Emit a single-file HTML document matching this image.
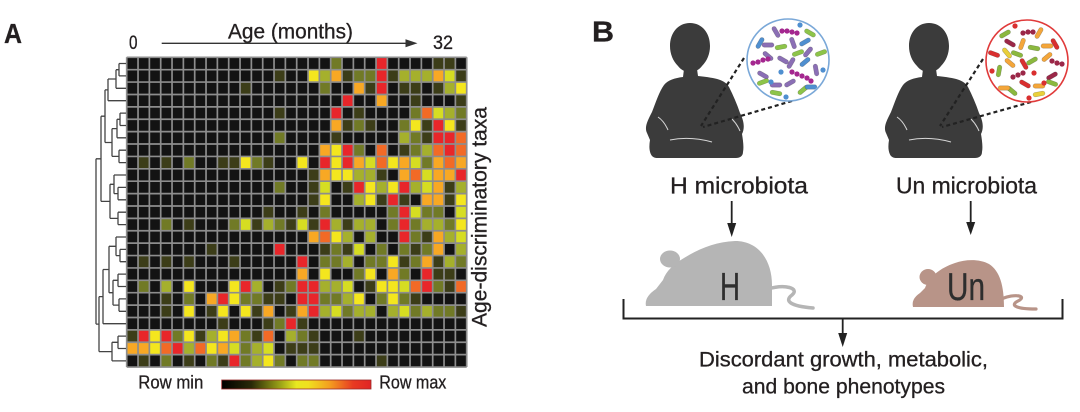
<!DOCTYPE html>
<html><head><meta charset="utf-8">
<style>
html,body{margin:0;padding:0;background:#fff;}
svg{display:block;}
text{font-family:"Liberation Sans Narrow","Liberation Sans",sans-serif;fill:#231f20;stroke:#231f20;stroke-width:0.3;}
.d{fill:#3c3d18}.o{fill:#717a26}.g{fill:#a5b02c}.Y{fill:#d6dd22}.y{fill:#f4e61e}.a{fill:#f8a824}.O{fill:#f26a26}.r{fill:#e8262a}
</style></head><body>
<svg width="1080" height="412" viewBox="0 0 1080 412" xmlns="http://www.w3.org/2000/svg">
<defs>
<rect id="u" width="1" height="1"/>
<rect id="rod" x="-6" y="-2.2" width="12" height="4.4" rx="2.2" stroke="rgba(0,0,0,0.25)" stroke-width="0.6"/>
<circle id="dot" r="2.6"/>
<linearGradient id="cb" x1="0" x2="1" y1="0" y2="0">
<stop offset="0" stop-color="#000"/><stop offset="0.2" stop-color="#2a2a08"/><stop offset="0.4" stop-color="#a0a818"/><stop offset="0.5" stop-color="#e8e820"/><stop offset="0.58" stop-color="#f0e020"/><stop offset="0.72" stop-color="#f4a020"/><stop offset="0.88" stop-color="#e83a22"/><stop offset="1" stop-color="#e02424"/>
</linearGradient>
<clipPath id="c1"><circle cx="788" cy="60" r="40"/></clipPath>
<clipPath id="c2"><circle cx="1027" cy="61" r="40"/></clipPath>
<g id="babyshape">
<path d="M690 23C702 23 710 33 710 46C710 54 707 61 702 66C699 70 695 72 690 72C685 72 681 70 678 66C673 61 670 54 670 46C670 33 678 23 690 23Z"/>
<path d="M684 69L683 77C675 78 668 80 664 85C659 92 656 102 652 112C648 120 644 127 647 133L650 140C649 146 649 152 652 156C654 158 656 158 658 158L736 158C740 158 743 156 743 152C744 147 743 140 742 134C745 128 744 121 740 113C737 104 733 95 729 87C725 80 717 78 698 76L697 69Z"/>
</g>
</defs>

<!-- Panel A -->
<text x="4" y="43" font-size="28" font-weight="bold" textLength="18" lengthAdjust="spacingAndGlyphs">A</text>
<text x="228" y="38.3" font-size="21" textLength="125" lengthAdjust="spacingAndGlyphs">Age (months)</text>
<text x="129" y="49" font-size="19" textLength="8.5" lengthAdjust="spacingAndGlyphs">0</text>
<text x="433" y="49" font-size="19" textLength="20" lengthAdjust="spacingAndGlyphs">32</text>
<path d="M161.7 43.3H410" stroke="#333" stroke-width="1.4"/>
<polygon points="405.5,39.3 417.5,43.3 405.5,47.3" fill="#333"/>

<rect x="126.7" y="57.3" width="340" height="309.75" fill="#131313"/>
<g transform="translate(126.7 57.3) scale(11.3333 12.39)">
<use href="#u" x="18" y="0" class="o"/><use href="#u" x="22" y="0" class="r"/><use href="#u" x="27" y="0" class="d"/><use href="#u" x="28" y="0" class="d"/>
<use href="#u" x="13" y="1" class="d"/><use href="#u" x="16" y="1" class="y"/><use href="#u" x="17" y="1" class="g"/><use href="#u" x="18" y="1" class="a"/><use href="#u" x="19" y="1" class="d"/><use href="#u" x="20" y="1" class="o"/><use href="#u" x="21" y="1" class="o"/><use href="#u" x="22" y="1" class="r"/><use href="#u" x="23" y="1" class="d"/><use href="#u" x="24" y="1" class="g"/><use href="#u" x="25" y="1" class="g"/><use href="#u" x="26" y="1" class="g"/><use href="#u" x="27" y="1" class="a"/><use href="#u" x="28" y="1" class="Y"/><use href="#u" x="29" y="1" class="d"/>
<use href="#u" x="10" y="2" class="d"/><use href="#u" x="17" y="2" class="o"/><use href="#u" x="20" y="2" class="a"/><use href="#u" x="21" y="2" class="d"/><use href="#u" x="22" y="2" class="r"/><use href="#u" x="24" y="2" class="d"/><use href="#u" x="25" y="2" class="d"/><use href="#u" x="27" y="2" class="d"/><use href="#u" x="28" y="2" class="g"/><use href="#u" x="29" y="2" class="y"/>
<use href="#u" x="19" y="3" class="r"/><use href="#u" x="22" y="3" class="a"/><use href="#u" x="25" y="3" class="d"/><use href="#u" x="29" y="3" class="d"/>
<use href="#u" x="13" y="4" class="d"/><use href="#u" x="18" y="4" class="r"/><use href="#u" x="20" y="4" class="d"/><use href="#u" x="25" y="4" class="o"/><use href="#u" x="26" y="4" class="O"/><use href="#u" x="27" y="4" class="Y"/><use href="#u" x="28" y="4" class="g"/><use href="#u" x="29" y="4" class="o"/>
<use href="#u" x="18" y="5" class="a"/><use href="#u" x="19" y="5" class="d"/><use href="#u" x="20" y="5" class="o"/><use href="#u" x="21" y="5" class="d"/><use href="#u" x="24" y="5" class="o"/><use href="#u" x="25" y="5" class="y"/><use href="#u" x="26" y="5" class="d"/><use href="#u" x="27" y="5" class="r"/><use href="#u" x="28" y="5" class="y"/><use href="#u" x="29" y="5" class="d"/>
<use href="#u" x="13" y="6" class="o"/><use href="#u" x="18" y="6" class="d"/><use href="#u" x="24" y="6" class="g"/><use href="#u" x="25" y="6" class="o"/><use href="#u" x="26" y="6" class="d"/><use href="#u" x="27" y="6" class="r"/><use href="#u" x="28" y="6" class="r"/><use href="#u" x="29" y="6" class="O"/>
<use href="#u" x="17" y="7" class="a"/><use href="#u" x="18" y="7" class="y"/><use href="#u" x="19" y="7" class="r"/><use href="#u" x="20" y="7" class="o"/><use href="#u" x="22" y="7" class="O"/><use href="#u" x="24" y="7" class="d"/><use href="#u" x="25" y="7" class="o"/><use href="#u" x="26" y="7" class="g"/><use href="#u" x="27" y="7" class="O"/><use href="#u" x="28" y="7" class="r"/><use href="#u" x="29" y="7" class="O"/>
<use href="#u" x="1" y="8" class="d"/><use href="#u" x="3" y="8" class="d"/><use href="#u" x="5" y="8" class="o"/><use href="#u" x="8" y="8" class="d"/><use href="#u" x="9" y="8" class="d"/><use href="#u" x="10" y="8" class="y"/><use href="#u" x="11" y="8" class="o"/><use href="#u" x="12" y="8" class="d"/><use href="#u" x="15" y="8" class="y"/><use href="#u" x="17" y="8" class="r"/><use href="#u" x="18" y="8" class="y"/><use href="#u" x="19" y="8" class="r"/><use href="#u" x="20" y="8" class="a"/><use href="#u" x="21" y="8" class="Y"/><use href="#u" x="22" y="8" class="O"/><use href="#u" x="23" y="8" class="y"/><use href="#u" x="24" y="8" class="a"/><use href="#u" x="25" y="8" class="Y"/><use href="#u" x="26" y="8" class="o"/><use href="#u" x="27" y="8" class="a"/><use href="#u" x="28" y="8" class="O"/><use href="#u" x="29" y="8" class="a"/>
<use href="#u" x="16" y="9" class="d"/><use href="#u" x="17" y="9" class="a"/><use href="#u" x="18" y="9" class="y"/><use href="#u" x="19" y="9" class="y"/><use href="#u" x="20" y="9" class="g"/><use href="#u" x="21" y="9" class="g"/><use href="#u" x="22" y="9" class="d"/><use href="#u" x="24" y="9" class="a"/><use href="#u" x="25" y="9" class="O"/><use href="#u" x="26" y="9" class="Y"/><use href="#u" x="27" y="9" class="a"/><use href="#u" x="28" y="9" class="a"/><use href="#u" x="29" y="9" class="r"/>
<use href="#u" x="13" y="10" class="o"/><use href="#u" x="16" y="10" class="d"/><use href="#u" x="17" y="10" class="Y"/><use href="#u" x="19" y="10" class="d"/><use href="#u" x="20" y="10" class="r"/><use href="#u" x="21" y="10" class="y"/><use href="#u" x="22" y="10" class="g"/><use href="#u" x="23" y="10" class="y"/><use href="#u" x="24" y="10" class="r"/><use href="#u" x="25" y="10" class="g"/><use href="#u" x="26" y="10" class="Y"/><use href="#u" x="27" y="10" class="a"/><use href="#u" x="28" y="10" class="d"/><use href="#u" x="29" y="10" class="g"/>
<use href="#u" x="16" y="11" class="d"/><use href="#u" x="17" y="11" class="y"/><use href="#u" x="20" y="11" class="g"/><use href="#u" x="21" y="11" class="y"/><use href="#u" x="22" y="11" class="d"/><use href="#u" x="23" y="11" class="r"/><use href="#u" x="24" y="11" class="d"/><use href="#u" x="26" y="11" class="a"/><use href="#u" x="27" y="11" class="a"/><use href="#u" x="28" y="11" class="d"/><use href="#u" x="29" y="11" class="y"/>
<use href="#u" x="12" y="12" class="d"/><use href="#u" x="15" y="12" class="d"/><use href="#u" x="17" y="12" class="o"/><use href="#u" x="23" y="12" class="o"/><use href="#u" x="24" y="12" class="r"/><use href="#u" x="25" y="12" class="Y"/><use href="#u" x="26" y="12" class="o"/><use href="#u" x="27" y="12" class="o"/><use href="#u" x="29" y="12" class="Y"/>
<use href="#u" x="3" y="13" class="o"/><use href="#u" x="5" y="13" class="d"/><use href="#u" x="9" y="13" class="o"/><use href="#u" x="10" y="13" class="Y"/><use href="#u" x="11" y="13" class="d"/><use href="#u" x="12" y="13" class="g"/><use href="#u" x="13" y="13" class="o"/><use href="#u" x="14" y="13" class="d"/><use href="#u" x="15" y="13" class="Y"/><use href="#u" x="16" y="13" class="d"/><use href="#u" x="17" y="13" class="r"/><use href="#u" x="18" y="13" class="g"/><use href="#u" x="19" y="13" class="d"/><use href="#u" x="20" y="13" class="g"/><use href="#u" x="21" y="13" class="g"/><use href="#u" x="23" y="13" class="o"/><use href="#u" x="24" y="13" class="r"/><use href="#u" x="25" y="13" class="o"/><use href="#u" x="26" y="13" class="g"/><use href="#u" x="27" y="13" class="g"/><use href="#u" x="28" y="13" class="o"/><use href="#u" x="29" y="13" class="y"/>
<use href="#u" x="16" y="14" class="a"/><use href="#u" x="17" y="14" class="O"/><use href="#u" x="18" y="14" class="y"/><use href="#u" x="19" y="14" class="g"/><use href="#u" x="21" y="14" class="g"/><use href="#u" x="24" y="14" class="r"/><use href="#u" x="25" y="14" class="o"/><use href="#u" x="26" y="14" class="d"/><use href="#u" x="27" y="14" class="a"/><use href="#u" x="28" y="14" class="g"/><use href="#u" x="29" y="14" class="Y"/>
<use href="#u" x="7" y="15" class="d"/><use href="#u" x="13" y="15" class="r"/><use href="#u" x="17" y="15" class="d"/><use href="#u" x="18" y="15" class="o"/><use href="#u" x="19" y="15" class="d"/><use href="#u" x="20" y="15" class="Y"/><use href="#u" x="22" y="15" class="o"/><use href="#u" x="24" y="15" class="o"/><use href="#u" x="25" y="15" class="d"/><use href="#u" x="26" y="15" class="o"/><use href="#u" x="27" y="15" class="a"/><use href="#u" x="29" y="15" class="g"/>
<use href="#u" x="1" y="16" class="d"/><use href="#u" x="3" y="16" class="d"/><use href="#u" x="5" y="16" class="d"/><use href="#u" x="9" y="16" class="d"/><use href="#u" x="15" y="16" class="r"/><use href="#u" x="17" y="16" class="o"/><use href="#u" x="18" y="16" class="o"/><use href="#u" x="19" y="16" class="g"/><use href="#u" x="21" y="16" class="o"/><use href="#u" x="22" y="16" class="o"/><use href="#u" x="23" y="16" class="y"/><use href="#u" x="24" y="16" class="d"/><use href="#u" x="25" y="16" class="o"/><use href="#u" x="26" y="16" class="a"/><use href="#u" x="27" y="16" class="d"/><use href="#u" x="28" y="16" class="g"/><use href="#u" x="29" y="16" class="o"/>
<use href="#u" x="15" y="17" class="a"/><use href="#u" x="17" y="17" class="y"/><use href="#u" x="20" y="17" class="o"/><use href="#u" x="21" y="17" class="y"/><use href="#u" x="23" y="17" class="a"/><use href="#u" x="24" y="17" class="o"/><use href="#u" x="26" y="17" class="r"/><use href="#u" x="27" y="17" class="d"/><use href="#u" x="28" y="17" class="d"/>
<use href="#u" x="1" y="18" class="o"/><use href="#u" x="3" y="18" class="g"/><use href="#u" x="5" y="18" class="y"/><use href="#u" x="9" y="18" class="y"/><use href="#u" x="10" y="18" class="r"/><use href="#u" x="11" y="18" class="g"/><use href="#u" x="13" y="18" class="d"/><use href="#u" x="14" y="18" class="o"/><use href="#u" x="15" y="18" class="r"/><use href="#u" x="16" y="18" class="r"/><use href="#u" x="17" y="18" class="g"/><use href="#u" x="18" y="18" class="g"/><use href="#u" x="19" y="18" class="Y"/><use href="#u" x="21" y="18" class="d"/><use href="#u" x="22" y="18" class="y"/><use href="#u" x="23" y="18" class="y"/><use href="#u" x="24" y="18" class="Y"/><use href="#u" x="25" y="18" class="O"/><use href="#u" x="26" y="18" class="r"/><use href="#u" x="27" y="18" class="o"/><use href="#u" x="28" y="18" class="d"/><use href="#u" x="29" y="18" class="O"/>
<use href="#u" x="3" y="19" class="d"/><use href="#u" x="5" y="19" class="o"/><use href="#u" x="7" y="19" class="a"/><use href="#u" x="8" y="19" class="r"/><use href="#u" x="9" y="19" class="y"/><use href="#u" x="10" y="19" class="o"/><use href="#u" x="11" y="19" class="o"/><use href="#u" x="12" y="19" class="d"/><use href="#u" x="13" y="19" class="d"/><use href="#u" x="15" y="19" class="r"/><use href="#u" x="16" y="19" class="r"/><use href="#u" x="17" y="19" class="o"/><use href="#u" x="18" y="19" class="o"/><use href="#u" x="19" y="19" class="g"/><use href="#u" x="20" y="19" class="y"/><use href="#u" x="22" y="19" class="o"/><use href="#u" x="23" y="19" class="y"/><use href="#u" x="24" y="19" class="o"/><use href="#u" x="25" y="19" class="d"/>
<use href="#u" x="3" y="20" class="d"/><use href="#u" x="5" y="20" class="y"/><use href="#u" x="7" y="20" class="d"/><use href="#u" x="8" y="20" class="y"/><use href="#u" x="10" y="20" class="y"/><use href="#u" x="11" y="20" class="d"/><use href="#u" x="12" y="20" class="a"/><use href="#u" x="14" y="20" class="d"/><use href="#u" x="15" y="20" class="a"/><use href="#u" x="16" y="20" class="r"/><use href="#u" x="17" y="20" class="g"/><use href="#u" x="18" y="20" class="Y"/><use href="#u" x="19" y="20" class="o"/><use href="#u" x="20" y="20" class="g"/><use href="#u" x="21" y="20" class="g"/><use href="#u" x="23" y="20" class="g"/><use href="#u" x="24" y="20" class="Y"/><use href="#u" x="25" y="20" class="o"/><use href="#u" x="26" y="20" class="g"/><use href="#u" x="27" y="20" class="o"/><use href="#u" x="28" y="20" class="o"/><use href="#u" x="29" y="20" class="d"/>
<use href="#u" x="8" y="21" class="d"/><use href="#u" x="12" y="21" class="d"/><use href="#u" x="13" y="21" class="o"/><use href="#u" x="14" y="21" class="r"/><use href="#u" x="15" y="21" class="d"/>
<use href="#u" x="0" y="22" class="d"/><use href="#u" x="1" y="22" class="r"/><use href="#u" x="2" y="22" class="y"/><use href="#u" x="3" y="22" class="r"/><use href="#u" x="4" y="22" class="o"/><use href="#u" x="5" y="22" class="y"/><use href="#u" x="6" y="22" class="d"/><use href="#u" x="7" y="22" class="g"/><use href="#u" x="8" y="22" class="y"/><use href="#u" x="9" y="22" class="a"/><use href="#u" x="10" y="22" class="o"/><use href="#u" x="11" y="22" class="d"/><use href="#u" x="12" y="22" class="O"/><use href="#u" x="14" y="22" class="g"/><use href="#u" x="15" y="22" class="o"/><use href="#u" x="16" y="22" class="d"/><use href="#u" x="20" y="22" class="d"/>
<use href="#u" x="0" y="23" class="a"/><use href="#u" x="1" y="23" class="a"/><use href="#u" x="2" y="23" class="y"/><use href="#u" x="3" y="23" class="O"/><use href="#u" x="4" y="23" class="r"/><use href="#u" x="5" y="23" class="g"/><use href="#u" x="6" y="23" class="O"/><use href="#u" x="7" y="23" class="y"/><use href="#u" x="8" y="23" class="a"/><use href="#u" x="9" y="23" class="Y"/><use href="#u" x="10" y="23" class="o"/><use href="#u" x="11" y="23" class="g"/><use href="#u" x="12" y="23" class="Y"/><use href="#u" x="14" y="23" class="d"/><use href="#u" x="15" y="23" class="d"/><use href="#u" x="16" y="23" class="d"/>
<use href="#u" x="1" y="24" class="d"/><use href="#u" x="3" y="24" class="o"/><use href="#u" x="5" y="24" class="d"/><use href="#u" x="7" y="24" class="o"/><use href="#u" x="8" y="24" class="d"/><use href="#u" x="9" y="24" class="r"/><use href="#u" x="10" y="24" class="o"/><use href="#u" x="11" y="24" class="g"/><use href="#u" x="12" y="24" class="y"/><use href="#u" x="13" y="24" class="o"/><use href="#u" x="15" y="24" class="o"/><use href="#u" x="16" y="24" class="o"/><use href="#u" x="22" y="24" class="d"/>
<path fill="none" stroke="#8d8d8d" stroke-width="1.7" vector-effect="non-scaling-stroke" d="M0 0V25M1 0V25M2 0V25M3 0V25M4 0V25M5 0V25M6 0V25M7 0V25M8 0V25M9 0V25M10 0V25M11 0V25M12 0V25M13 0V25M14 0V25M15 0V25M16 0V25M17 0V25M18 0V25M19 0V25M20 0V25M21 0V25M22 0V25M23 0V25M24 0V25M25 0V25M26 0V25M27 0V25M28 0V25M29 0V25M30 0V25M0 0H30M0 1H30M0 2H30M0 3H30M0 4H30M0 5H30M0 6H30M0 7H30M0 8H30M0 9H30M0 10H30M0 11H30M0 12H30M0 13H30M0 14H30M0 15H30M0 16H30M0 17H30M0 18H30M0 19H30M0 20H30M0 21H30M0 22H30M0 23H30M0 24H30M0 25H30"/>
</g>

<!-- dendrogram -->
<path fill="none" stroke="#444" stroke-width="1.3" d="M119 63.5H126M119 75.9H126M116 88.3H126M108 100.7H126M120 113.1H126M120 125.5H126M117 137.8H126M119 150.2H126M119 162.6H126M114 175H126M118 187.4H126M118 199.8H126M118 212.2H126M118 224.6H126M116 237H126M120 249.4H126M120 261.7H126M118 274.1H126M118 286.5H126M119 298.9H126M119 311.3H126M103 323.7H126M118 336.1H126M118 348.5H126M112 360.9H126
M119 63.5V75.9M116 69.7V88.3M108 79V100.7M120 113.1V125.5M117 119.3V137.8M119 150.2V162.6M112 128.6V156.4M105 89.9V142.5M118 187.4V199.8M114 175V193.6M118 212.2V224.6M110 184.3V218.4M101 116.2V201.4M120 249.4V261.7M116 237V255.6M118 274.1V286.5M119 298.9V311.3M113 280.3V305.1M109 246.3V292.7M103 269.5V323.7M118 336.1V348.5M112 342.3V360.9M99 296.6V351.6M96 158.8V324.1
M116 69.7H119M108 79H116M117 119.3H120M112 128.6H117M112 156.4H119M105 89.9H108M105 142.5H112M114 193.6H118M110 184.3H114M110 218.4H118M101 116.2H105M101 201.4H110M116 255.6H120M113 280.3H118M113 305.1H119M109 246.3H116M109 292.7H113M103 269.5H109M112 342.3H118M99 296.6H103M99 351.6H112M96 158.8H101M96 324.1H99"/>

<text transform="translate(486.7 327) rotate(-90)" font-size="21" textLength="220" lengthAdjust="spacingAndGlyphs">Age-discriminatory taxa</text>

<text x="138.3" y="388.3" font-size="18" textLength="65" lengthAdjust="spacingAndGlyphs">Row min</text>
<rect x="221.7" y="380" width="149.3" height="9" fill="url(#cb)" stroke="#9a2a2a" stroke-width="0.8"/>
<text x="379.3" y="388.3" font-size="18" textLength="67" lengthAdjust="spacingAndGlyphs">Row max</text>

<!-- Panel B -->
<text x="592" y="41.7" font-size="29" font-weight="bold" textLength="22" lengthAdjust="spacingAndGlyphs">B</text>

<!-- Left baby -->
<use href="#babyshape" fill="#3b3b3b"/>
<path d="M658 117Q664 121 668 130M732 119Q737 124 740 131M670 140Q690 136 712 142" stroke="#fff" stroke-width="1" fill="none" opacity="0.8"/>
<g stroke="#222" stroke-width="2.2" stroke-dasharray="4 3" fill="none">
<path d="M744 58L701 126M792 101L703 127"/>
</g>
<!-- Left circle -->
<circle cx="788" cy="60" r="41" fill="#fff" stroke="#7aa8d8" stroke-width="1.6"/>
<g clip-path="url(#c1)"><g transform="translate(788 60)">
<use href="#rod" transform="translate(-12 -28) rotate(60)" fill="#8b6fb5"/>
<use href="#rod" transform="translate(22 -27) rotate(30)" fill="#8dc449"/>
<use href="#rod" transform="translate(-28 -17) rotate(-60)" fill="#4f8fd0"/>
<use href="#rod" transform="translate(-20 -15) rotate(0)" fill="#8b6fb5"/>
<use href="#rod" transform="translate(-7 -13) rotate(-10)" fill="#8dc449"/>
<use href="#rod" transform="translate(17 -18) rotate(-30)" fill="#4f8fd0"/>
<use href="#rod" transform="translate(5 -17) rotate(70)" fill="#8b6fb5"/>
<use href="#rod" transform="translate(10 -7) rotate(-20)" fill="#8dc449"/>
<use href="#rod" transform="translate(20 -8) rotate(-50)" fill="#8b6fb5"/>
<use href="#rod" transform="translate(33 -7) rotate(-20)" fill="#8dc449"/>
<use href="#rod" transform="translate(-20 -4) rotate(40)" fill="#8b6fb5"/>
<use href="#rod" transform="translate(-5 0) rotate(30)" fill="#8b6fb5"/>
<use href="#rod" transform="translate(3 3) rotate(-60)" fill="#8b6fb5"/>
<use href="#rod" transform="translate(17 2) rotate(-40)" fill="#4f8fd0"/>
<use href="#rod" transform="translate(28 10) rotate(80)" fill="#8b6fb5"/>
<use href="#rod" transform="translate(-25 15) rotate(30)" fill="#8b6fb5"/>
<use href="#rod" transform="translate(-25 22) rotate(-20)" fill="#8dc449"/>
<use href="#rod" transform="translate(-12 25) rotate(0)" fill="#8b6fb5"/>
<use href="#rod" transform="translate(2 23) rotate(-30)" fill="#8b6fb5"/>
<use href="#rod" transform="translate(15 30) rotate(-40)" fill="#8dc449"/>
<use href="#rod" transform="translate(23 27) rotate(0)" fill="#4f8fd0"/>
<use href="#rod" transform="translate(-12 33) rotate(10)" fill="#8dc449"/>
<g fill="#4f8fd0"><use href="#dot" x="12" y="-35"/><use href="#dot" x="35" y="10"/><use href="#dot" x="-7" y="12"/><use href="#dot" x="-17" y="22"/><use href="#dot" x="-2" y="37"/></g>
<g fill="#a4278f"><use href="#dot" x="-6" y="-29"/><use href="#dot" x="-1" y="-29"/><use href="#dot" x="4" y="-28"/><use href="#dot" x="9" y="-27"/>
<use href="#dot" x="-35" y="3"/><use href="#dot" x="-30" y="2"/><use href="#dot" x="-25" y="0"/><use href="#dot" x="-20" y="-1"/>
<use href="#dot" x="4" y="12"/><use href="#dot" x="9" y="14"/><use href="#dot" x="14" y="16"/><use href="#dot" x="19" y="18"/><use href="#dot" x="23" y="21"/></g>
</g></g>

<!-- Right baby -->
<use href="#babyshape" fill="#3b3b3b" transform="translate(239 0)"/>
<path d="M897 117Q903 121 907 130M971 119Q976 124 979 131M909 140Q929 136 951 142" stroke="#fff" stroke-width="1" fill="none" opacity="0.8"/>
<g stroke="#222" stroke-width="2.2" stroke-dasharray="4 3" fill="none">
<path d="M983 59L940 126M1031 102L942 127"/>
</g>
<circle cx="1027" cy="61" r="41" fill="#fff" stroke="#e03a3a" stroke-width="1.6"/>
<g clip-path="url(#c2)"><g transform="translate(1027 61)">
<use href="#rod" transform="translate(12 -28) rotate(-60)" fill="#f4a63a"/>
<use href="#rod" transform="translate(-22 -27) rotate(-30)" fill="#8bb83e"/>
<use href="#rod" transform="translate(28 -17) rotate(60)" fill="#d92f2f"/>
<use href="#rod" transform="translate(20 -15) rotate(0)" fill="#f4a63a"/>
<use href="#rod" transform="translate(7 -13) rotate(10)" fill="#8bb83e"/>
<use href="#rod" transform="translate(-17 -18) rotate(30)" fill="#9b2748"/>
<use href="#rod" transform="translate(-5 -17) rotate(-70)" fill="#f4a63a"/>
<use href="#rod" transform="translate(-10 -7) rotate(20)" fill="#8bb83e"/>
<use href="#rod" transform="translate(-20 -8) rotate(50)" fill="#e9cf3a"/>
<use href="#rod" transform="translate(-33 -7) rotate(20)" fill="#d92f2f"/>
<use href="#rod" transform="translate(20 -4) rotate(-40)" fill="#f4a63a"/>
<use href="#rod" transform="translate(5 0) rotate(-30)" fill="#8bb83e"/>
<use href="#rod" transform="translate(-3 3) rotate(60)" fill="#d92f2f"/>
<use href="#rod" transform="translate(-17 2) rotate(40)" fill="#f4a63a"/>
<use href="#rod" transform="translate(-28 10) rotate(-80)" fill="#8bb83e"/>
<use href="#rod" transform="translate(25 15) rotate(-30)" fill="#9b2748"/>
<use href="#rod" transform="translate(25 22) rotate(20)" fill="#8bb83e"/>
<use href="#rod" transform="translate(12 25) rotate(0)" fill="#f4a63a"/>
<use href="#rod" transform="translate(-2 23) rotate(30)" fill="#d92f2f"/>
<use href="#rod" transform="translate(-15 30) rotate(40)" fill="#8bb83e"/>
<use href="#rod" transform="translate(-23 27) rotate(0)" fill="#f4a63a"/>
<use href="#rod" transform="translate(12 33) rotate(-10)" fill="#e9cf3a"/>
<g fill="#d92f2f"><use href="#dot" x="-12" y="-35"/><use href="#dot" x="-35" y="10"/><use href="#dot" x="7" y="12"/><use href="#dot" x="17" y="22"/><use href="#dot" x="2" y="37"/></g>
<g fill="#9b2748"><use href="#dot" x="6" y="-29"/><use href="#dot" x="1" y="-29"/><use href="#dot" x="-4" y="-28"/>
<use href="#dot" x="35" y="3"/><use href="#dot" x="30" y="2"/><use href="#dot" x="25" y="0"/>
<use href="#dot" x="-4" y="12"/><use href="#dot" x="-9" y="14"/><use href="#dot" x="-14" y="16"/></g>
</g></g>

<text x="670" y="193.3" font-size="23" textLength="138" lengthAdjust="spacingAndGlyphs">H microbiota</text>
<text x="896" y="193.3" font-size="23" textLength="141" lengthAdjust="spacingAndGlyphs">Un microbiota</text>

<!-- arrows -->
<path d="M731.7 201V225M970.7 201V224M842.7 318V335" stroke="#222" stroke-width="1.8"/>
<polygon points="727.2,223 736.2,223 731.7,237" fill="#222"/>
<polygon points="966.2,222 975.2,222 970.7,235" fill="#222"/>
<polygon points="838.2,333 847.2,333 842.7,347" fill="#222"/>
<path d="M623.5 299V318.5H1062.5V299" fill="none" stroke="#222" stroke-width="2"/>

<!-- mice -->
<path d="M646 306Q644 297 656 289L663 280C666 271 674 264 684 258C700 248 716 242 735 241C760 241 772 262 772 285L772 306Z" fill="#b5b5b5"/>
<ellipse cx="670" cy="259" rx="10" ry="8.5" fill="#b5b5b5"/>
<path d="M768 289C785 284 800 288 792 295C784 301 790 306 813 308" fill="none" stroke="#b5b5b5" stroke-width="3.5" stroke-linecap="round"/>
<text x="720" y="300" font-size="39" textLength="20" lengthAdjust="spacingAndGlyphs" style="fill:#2e2e2e;stroke:#2e2e2e">H</text>

<path d="M913 307Q911 299 920 293L925 288C929 277 940 268 955 263C966 259 980 259 989 264C1000 271 1004 286 1004 307Z" fill="#b89488"/>
<ellipse cx="928" cy="277" rx="8.5" ry="8" fill="#b89488"/>
<path d="M1001 299C1015 293 1028 296 1018 301C1010 305 1015 309 1036 309" fill="none" stroke="#b89488" stroke-width="3.2" stroke-linecap="round"/>
<text x="947" y="300" font-size="39" textLength="38" lengthAdjust="spacingAndGlyphs" style="fill:#2e2e2e;stroke:#2e2e2e">Un</text>

<text x="699" y="366.7" font-size="21" textLength="289" lengthAdjust="spacingAndGlyphs">Discordant growth, metabolic,</text>
<text x="742" y="393.3" font-size="21" textLength="203" lengthAdjust="spacingAndGlyphs">and bone phenotypes</text>
</svg>
</body></html>
